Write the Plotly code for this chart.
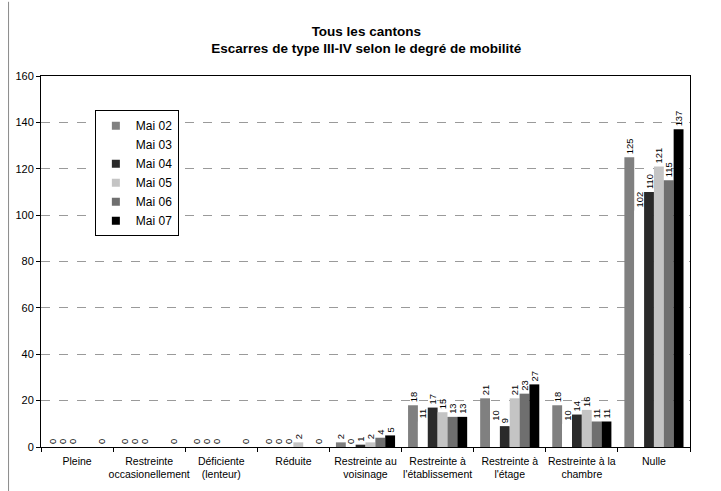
import plotly.graph_objects as go

categories = [
    "Pleine",
    "Restreinte<br>occasionellement",
    "Déficiente<br>(lenteur)",
    "Réduite",
    "Restreinte au<br>voisinage",
    "Restreinte à<br>l'établissement",
    "Restreinte à<br>l'étage",
    "Restreinte à la<br>chambre",
    "Nulle",
]

mai_02 = [0, 0, 0, 0, 2, 18, 21, 18, 125]
mai_03 = [0, 0, 0, 0, 0, 11, 10, 10, 102]
mai_04 = [0, 0, 0, 0, 1, 17, 9, 14, 110]
mai_05 = [None, None, None, 2, 2, 15, 21, 16, 121]
mai_06 = [None, None, None, None, 4, 13, 23, 11, 115]
mai_07 = [0, 0, 0, 0, 5, 13, 27, 11, 137]

series = [
    ("Mai 02", mai_02, "#808080"),
    ("Mai 03", mai_03, "#ffffff"),
    ("Mai 04", mai_04, "#2a2a2a"),
    ("Mai 05", mai_05, "#c4c4c4"),
    ("Mai 06", mai_06, "#6f6f6f"),
    ("Mai 07", mai_07, "#000000"),
]

y_ticks = [0, 20, 40, 60, 80, 100, 120, 140, 160]

font_family = "Liberation Sans, Arial, sans-serif"

fig = go.Figure()
for name, values, color in series:
    fig.add_trace(go.Bar(
        name=name,
        x=categories,
        y=values,
        marker=dict(color=color, line=dict(width=0)),
        text=[("" if v is None else str(v)) for v in values],
        textposition="outside",
        textangle=-90,
        textfont=dict(size=10.5, color="black", family=font_family),
        cliponaxis=False,
        showlegend=False,
    ))

# Legend entries with small square swatches
for name, values, color in series:
    fig.add_trace(go.Scatter(
        name=name,
        x=[None],
        y=[None],
        mode="markers",
        marker=dict(symbol="square", size=8, color=color, line=dict(width=0)),
        showlegend=True,
    ))

fig.update_layout(
    width=721,
    height=491,
    margin=dict(l=41, r=31, t=76, b=44, autoexpand=False),
    paper_bgcolor="white",
    plot_bgcolor="white",
    barmode="group",
    bargap=0.18,
    bargroupgap=0,
    uniformtext=dict(minsize=9, mode="show"),
    font=dict(family=font_family, color="black", size=11),
    title=dict(
        text="<b>Tous les cantons<br>Escarres de type III-IV selon le degré de mobilité</b>",
        x=0.508,
        xanchor="center",
        y=0.927,
        yanchor="top",
        font=dict(size=13.5, family=font_family, color="black"),
    ),
    legend=dict(
        x=0.083,
        y=0.908,
        xanchor="left",
        yanchor="top",
        bgcolor="white",
        bordercolor="black",
        borderwidth=1,
        font=dict(size=12, family=font_family),
        itemwidth=30,
        tracegroupgap=0,
    ),
    xaxis=dict(
        type="category",
        showline=True,
        linecolor="black",
        linewidth=1,
        mirror=True,
        ticks="outside",
        tickson="boundaries",
        ticklen=4,
        tickcolor="black",
        tickangle=0,
        ticklabelstandoff=4,
        automargin=False,
        tickfont=dict(size=10.5, family=font_family),
        showgrid=False,
    ),
    yaxis=dict(
        range=[0, 160],
        tickvals=y_ticks,
        showline=True,
        linecolor="black",
        linewidth=1,
        mirror=True,
        ticks="outside",
        ticklen=4,
        tickcolor="black",
        automargin=False,
        tickfont=dict(size=11, family=font_family),
        showgrid=True,
        gridcolor="#9a9a9a",
        griddash="dash",
        gridwidth=1,
        zeroline=False,
    ),
)

# Thin frame line along the left edge of the chart area
fig.add_shape(
    type="line", xref="paper", yref="paper",
    x0=-0.05, x1=-0.05, y0=-0.12, y1=1.2,
    line=dict(color="#8a8a8a", width=1),
)

fig.write_html("out.html")
